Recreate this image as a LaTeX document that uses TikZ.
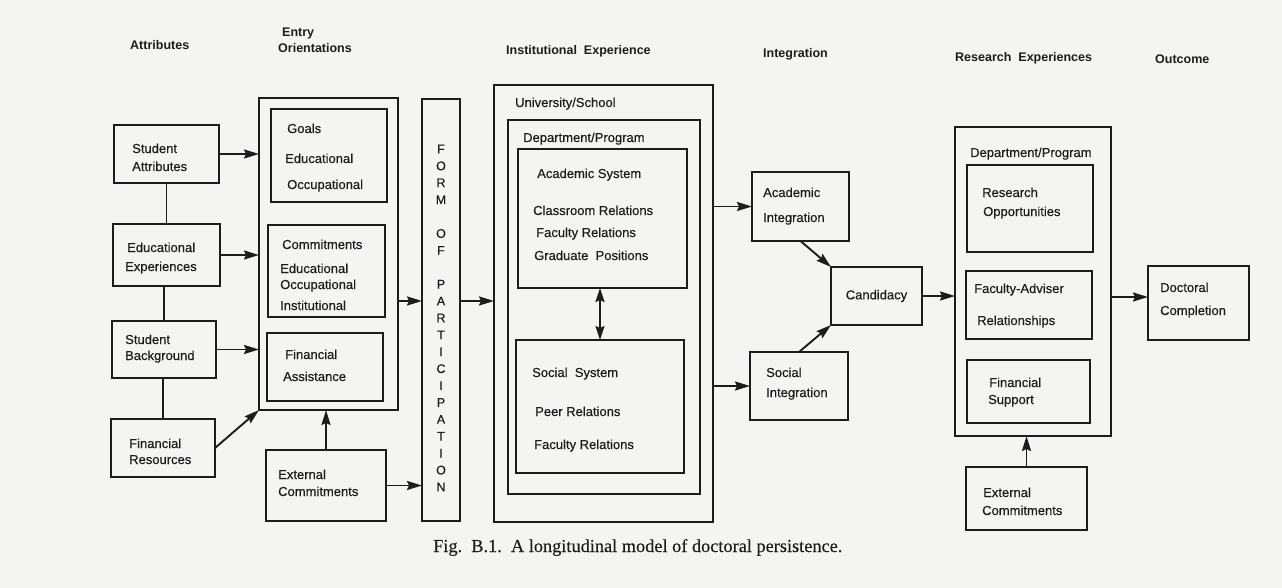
\documentclass[tikz,border=0pt]{standalone}
\usepackage{fontspec}
\setmainfont{Liberation Sans}
\newfontfamily\medfont[BoldFont=Liberation Sans,BoldFeatures={FakeBold=0.35}]{Liberation Sans}
\newfontfamily\capfont[BoldFont=Liberation Serif,BoldFeatures={FakeBold=0.3}]{Liberation Serif}
\usetikzlibrary{arrows.meta}
\definecolor{ink}{RGB}{28,28,28}
\definecolor{paper}{RGB}{244,244,242}
\newcommand\mybox[5]{\node[box,minimum width={#4-#2},minimum height={#5-#3}] (#1) at (#2,#3) {};}
\newcommand\mytx[4]{\node[txt] (#1) at (#2,#3) {#4};}
\newcommand\myhd[4]{\node[hdr] (#1) at (#2,#3) {#4};}
\begin{document}
\begin{tikzpicture}[x=1pt,y=-1pt,
  box/.style={draw=ink,line width=1.9pt,inner sep=0pt,outer sep=0pt,anchor=north west},
  txt/.style={anchor=base west,inner sep=0pt,text=ink,font=\medfont\bfseries\fontsize{13}{15}\selectfont},
  hdr/.style={anchor=base west,inner sep=0pt,text=ink,font=\bfseries\fontsize{12.5}{15}\selectfont},
  formtxt/.style={inner sep=0pt,text=ink,align=center,font=\medfont\bfseries\fontsize{12.5}{16.9}\selectfont},
  arr/.style={draw=ink,line width=1.9pt,-{Stealth[length=15pt,width=9pt,inset=2pt]}},
  dbl/.style={draw=ink,line width=1.9pt,{Stealth[length=14pt,width=9pt,inset=2pt]}-{Stealth[length=14pt,width=9pt,inset=2pt]}},
  link/.style={draw=ink,line width=1.9pt}]
\fill[paper] (0,0) rectangle (1282,588);
\useasboundingbox (0,0) rectangle (1282,588);

% headers
\myhd{h1}{130}{50}{Attributes}
\myhd{h2a}{282}{37}{Entry}
\myhd{h2b}{278}{53}{Orientations}
\myhd{h3}{506}{55}{Institutional\ \ Experience}
\myhd{h4}{763}{58}{Integration}
\myhd{h5}{955}{62}{Research\ \ Experiences}
\myhd{h6}{1155}{64}{Outcome}

% boxes
\mybox{sa}{114}{125}{219}{183}
\mybox{ee}{113}{224}{220}{286}
\mybox{sb}{112}{321}{216}{378}
\mybox{fr}{111}{419}{215}{477}
\mybox{eo}{259}{98}{398}{410}
\mybox{go}{271}{109}{387}{202}
\mybox{cm}{268}{225}{385}{317}
\mybox{fa}{267}{333}{383}{401}
\mybox{ec}{266}{450}{386}{521}
\mybox{fp}{422}{99}{460}{521}
\mybox{us}{494}{85}{713}{522}
\mybox{dp}{508}{120}{700}{494}
\mybox{as}{518}{149}{687}{288}
\mybox{ss}{516}{340}{684}{473}
\mybox{ai}{752}{172}{849}{241}
\mybox{si}{750}{352}{848}{420}
\mybox{cd}{831}{267}{922}{325}
\mybox{rx}{955}{127}{1111}{436}
\mybox{ro}{967}{165}{1093}{252}
\mybox{fv}{966}{271}{1092}{339}
\mybox{fs}{967}{360}{1090}{423}
\mybox{ex}{966}{467}{1087}{530}
\mybox{dc}{1148}{266}{1249}{340}

% texts
\mytx{t1}{132}{153}{Student}
\mytx{t2}{132}{171}{Attributes}
\mytx{t3}{127}{252}{Educational}
\mytx{t4}{125}{271}{Experiences}
\mytx{t5}{125}{344}{Student}
\mytx{t6}{125}{360}{Background}
\mytx{t7}{129}{448}{Financial}
\mytx{t8}{129}{464}{Resources}

\mytx{t9}{287}{133}{Goals}
\mytx{t10}{285}{163}{Educational}
\mytx{t11}{287}{189}{Occupational}
\mytx{t12}{282}{249}{Commitments}
\mytx{t13}{280}{273}{Educational}
\mytx{t14}{280}{289}{Occupational}
\mytx{t15}{280}{310}{Institutional}
\mytx{t16}{285}{359}{Financial}
\mytx{t17}{283}{381}{Assistance}
\mytx{t18}{278}{479}{External}
\mytx{t19}{278}{496}{Commitments}

\node[formtxt] (fpt) at (441,318) {F\\O\\R\\M\\\mbox{}\\O\\F\\\mbox{}\\P\\A\\R\\T\\I\\C\\I\\P\\A\\T\\I\\O\\N};

\mytx{t20}{515}{107}{University/School}
\mytx{t21}{523}{142}{Department/Program}
\mytx{t22}{537}{178}{Academic System}
\mytx{t23}{533}{215}{Classroom Relations}
\mytx{t24}{536}{237}{Faculty Relations}
\mytx{t25}{534}{260}{Graduate\ \ Positions}
\mytx{t26}{532}{377}{Social\ \ System}
\mytx{t27}{535}{416}{Peer Relations}
\mytx{t28}{534}{449}{Faculty Relations}

\mytx{t29}{763}{197}{Academic}
\mytx{t30}{763}{222}{Integration}
\mytx{t31}{766}{377}{Social}
\mytx{t32}{766}{397}{Integration}
\node[txt,anchor=center] (t33) at (cd) {Candidacy};

\mytx{t34}{970}{157}{Department/Program}
\mytx{t35}{982}{197}{Research}
\mytx{t36}{983}{216}{Opportunities}
\mytx{t37}{974}{293}{Faculty-Adviser}
\mytx{t38}{977}{325}{Relationships}
\mytx{t39}{989}{387}{Financial}
\mytx{t40}{988}{404}{Support}
\mytx{t41}{983}{497}{External}
\mytx{t42}{982}{515}{Commitments}
\mytx{t43}{1160}{292}{Doctoral}
\mytx{t44}{1160}{315}{Completion}

% caption
\node[anchor=base west,inner sep=0pt,text=ink,font=\capfont\bfseries\fontsize{18.3}{20}\selectfont] (cap) at (433,552) {Fig.\ \ B.1.\ \ A longitudinal model of doctoral persistence.};

% connectors
\draw[link] (sa.south) -- (sa.south |- ee.north);
\draw[link] (sb.north) -- (sb.north |- ee.south);
\draw[link] (fr.north) -- (fr.north |- sb.south);
\draw[arr] (sa.east) -- (sa.east -| eo.west);
\draw[arr] (ee.east) -- (ee.east -| eo.west);
\draw[arr] (sb.east) -- (sb.east -| eo.west);
\draw[arr] (fr.east) -- (eo.south west);
\draw[arr] (ec.north) -- (ec.north |- eo.south);
\draw[arr] (ec.east) -- (ec.east -| fp.west);
\coordinate (y301) at (0,301);
\draw[arr] (eo.east |- y301) -- (fp.west |- y301);
\draw[arr] (fp.east |- y301) -- (us.west |- y301);
\draw[dbl] (ss.north) -- (ss.north |- as.south);
\draw[arr] (us.east |- ai.west) -- (ai.west);
\draw[arr] (us.east |- si.west) -- (si.west);
\draw[arr] (ai.south) -- (cd.north west);
\draw[arr] (si.north) -- (cd.south west);
\draw[arr] (cd.east) -- (cd.east -| rx.west);
\coordinate (y297) at (0,297);
\draw[arr] (rx.east |- y297) -- (dc.west |- y297);
\draw[arr] (ex.north) -- (ex.north |- rx.south);
\end{tikzpicture}
\end{document}
